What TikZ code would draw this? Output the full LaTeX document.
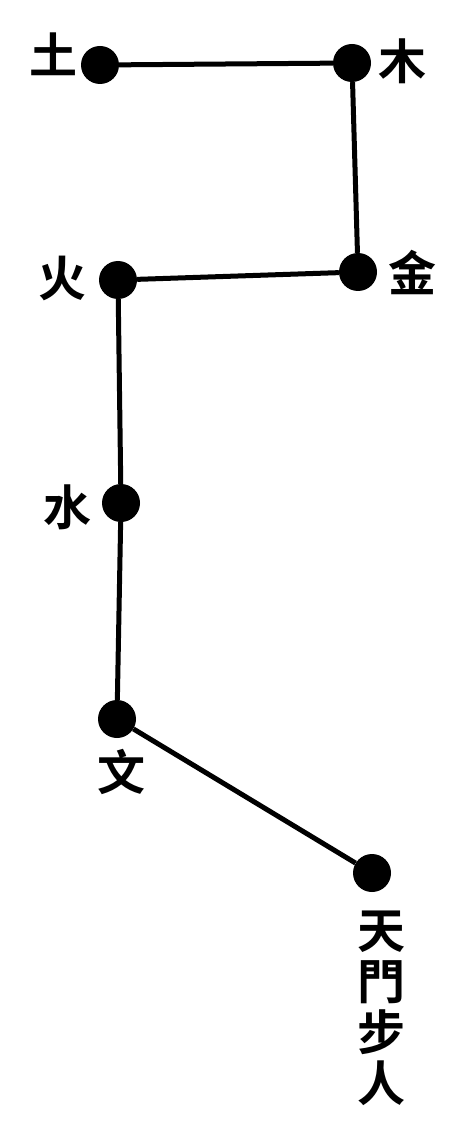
\documentclass[tikz,border=0pt]{standalone}
\usepackage{fontspec}
\newfontfamily\cjk{Noto Sans CJK TC}[BoldFont={Noto Sans CJK TC Bold}]
\begin{document}
\begin{tikzpicture}[x=1pt,y=-1pt,
  star/.style={circle,fill=black,inner sep=0pt,minimum size=38pt},
  lab/.style={font=\cjk\bfseries\fontsize{48}{51}\selectfont,inner sep=0pt,align=center},
  link/.style={line width=5pt}]
\useasboundingbox (0,0) rectangle (463,1139);
\node[star] (tu) at (100,65) {};
\node[star] (mu) at (352,63) {};
\node[star] (jin) at (358,272) {};
\node[star] (huo) at (118,280) {};
\node[star] (shui) at (121,503) {};
\node[star] (wen) at (117,719) {};
\node[star] (tm) at (372,873) {};
\node[lab] (ltu) at (53,54) {土};
\node[lab] (lmu) at (402,61) {木};
\node[lab] (ljin) at (412,272) {金};
\node[lab] (lhuo) at (62,278) {火};
\node[lab] (lshui) at (67,507) {水};
\node[lab] (lwen) at (121,772) {文};
\node[lab] (ltm) at (381,1008) {天\\門\\步\\人};
\draw[link] (tu) -- (mu) -- (jin) -- (huo) -- (shui) -- (wen) -- (tm);
\end{tikzpicture}
\end{document}
